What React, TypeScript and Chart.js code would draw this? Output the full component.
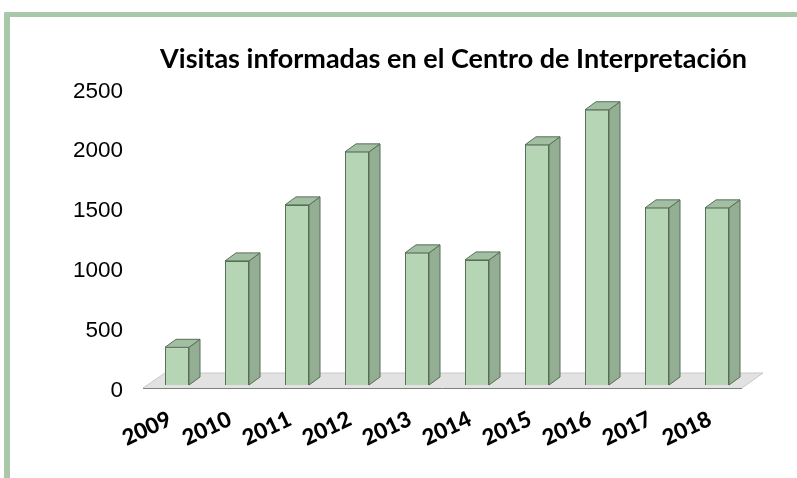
import React, { useEffect, useRef } from "react";
import { Chart, registerables } from "chart.js";

Chart.register(...registerables);

const categories = ["2009", "2010", "2011", "2012", "2013", "2014", "2015", "2016", "2017", "2018"];
const visits = [315, 1037, 1505, 1948, 1104, 1045, 2007, 2300, 1480, 1480];
const titleText = "Visitas informadas en el Centro de Interpretación";

const DEPTH_X = 11;
const DEPTH_Y = 8;

const bars3d = {
  id: "bars3d",
  beforeDatasetsDraw(chart: any) {
    const { ctx, chartArea, scales } = chart;
    const base = scales.y.getPixelForValue(0);
    // floor
    ctx.save();
    ctx.fillStyle = "#E2E2E2";
    ctx.beginPath();
    ctx.moveTo(chartArea.left - 4, base + 3);
    ctx.lineTo(chartArea.right - 5, base + 3);
    ctx.lineTo(chartArea.right + 16, base - 12);
    ctx.lineTo(chartArea.left + 18, base - 12);
    ctx.closePath();
    ctx.fill();
    ctx.strokeStyle = "#7F7F7F";
    ctx.lineWidth = 1;
    ctx.beginPath();
    ctx.moveTo(chartArea.left - 4, base + 3.5);
    ctx.lineTo(chartArea.right - 5, base + 3.5);
    ctx.stroke();
    ctx.strokeStyle = "#C8C8C8";
    ctx.beginPath();
    ctx.moveTo(chartArea.left - 4, base + 3);
    ctx.lineTo(chartArea.left + 18, base - 12);
    ctx.lineTo(chartArea.right + 16, base - 12);
    ctx.lineTo(chartArea.right - 5, base + 3);
    ctx.stroke();
    // bar side and top faces
    const meta = chart.getDatasetMeta(0);
    ctx.strokeStyle = "#566F56";
    ctx.lineJoin = "round";
    meta.data.forEach((bar: any) => {
      const l = bar.x - bar.width / 2;
      const r = bar.x + bar.width / 2;
      const t = bar.y;
      const b = bar.base;
      ctx.fillStyle = "#93AE93";
      ctx.beginPath();
      ctx.moveTo(r, t);
      ctx.lineTo(r + DEPTH_X, t - DEPTH_Y);
      ctx.lineTo(r + DEPTH_X, b - DEPTH_Y);
      ctx.lineTo(r, b);
      ctx.closePath();
      ctx.fill();
      ctx.stroke();
      ctx.fillStyle = "#A3BFA3";
      ctx.beginPath();
      ctx.moveTo(l, t);
      ctx.lineTo(l + DEPTH_X, t - DEPTH_Y);
      ctx.lineTo(r + DEPTH_X, t - DEPTH_Y);
      ctx.lineTo(r, t);
      ctx.closePath();
      ctx.fill();
      ctx.stroke();
    });
    ctx.restore();
  },
};

export default function App() {
  const ref = useRef<HTMLCanvasElement>(null);
  useEffect(() => {
    const chart = new Chart(ref.current!, {
      type: "bar",
      data: {
        labels: categories,
        datasets: [
          {
            data: visits,
            backgroundColor: "#B5D5B5",
            borderColor: "#566F56",
            borderWidth: 1,
            barPercentage: 0.4,
            categoryPercentage: 1,
          },
        ],
      },
      plugins: [bars3d],
      options: {
        animation: false,
        responsive: false,
        layout: { padding: { left: 0, right: 50, top: 0, bottom: 0 } },
        plugins: {
          legend: { display: false },
          tooltip: { enabled: false },
          title: {
            display: true,
            text: titleText,
            align: "end",
            color: "#000000",
            font: { family: "Lato", weight: "bold", size: 27 },
            padding: { top: 43, bottom: 10.4 },
          },
        },
        scales: {
          y: {
            min: 0,
            max: 2500,
            afterFit: (s: any) => { s.width = 147; },
            grid: { display: false },
            border: { display: false },
            ticks: {
              stepSize: 500,
              color: "#000000",
              padding: 16,
              labelOffset: 5.5,
              callback: (v: any) => String(v),
              font: { family: "Liberation Sans", size: 22.5 },
            },
          },
          x: {
            afterFit: (s: any) => { s.height = 93; },
            grid: { display: false },
            border: { display: false },
            ticks: {
              color: "#000000",
              minRotation: 25,
              maxRotation: 25,
              padding: 13,
              labelOffset: -7,
              font: { family: "Lato", weight: 900, size: 22 },
            },
          },
        },
      },
    } as any);
    return () => chart.destroy();
  }, []);
  return (
    <div style={{ position: "absolute", left: 0, top: 0, width: 797, height: 478, background: "#fff", overflow: "hidden" }}>
      <div style={{ position: "absolute", left: 4, top: 12, width: 800, height: 480, boxSizing: "border-box", borderLeft: "6px solid #A9C8A9", borderTop: "5px solid #A9C8A9", borderTopLeftRadius: 2 }} />
      <canvas ref={ref} width={797} height={478} style={{ position: "absolute", left: 0, top: 0 }} />
    </div>
  );
}
